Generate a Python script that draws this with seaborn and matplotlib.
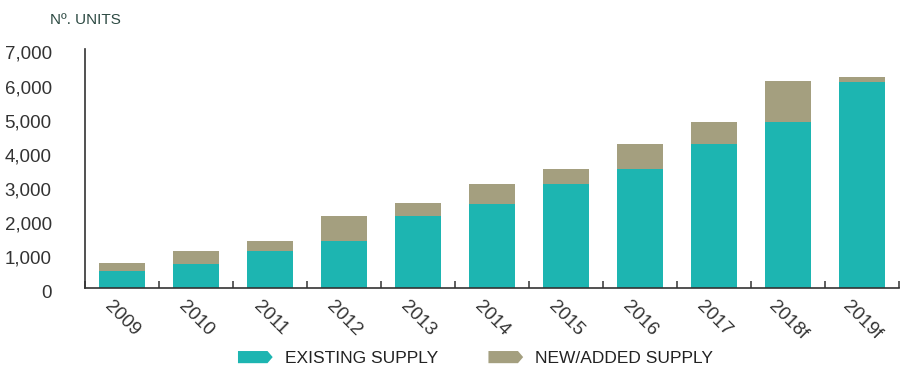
import matplotlib
matplotlib.use("Agg")
import numpy as np
import pandas as pd
import matplotlib.pyplot as plt
import seaborn as sns
from matplotlib.patches import Patch, Polygon
from matplotlib.legend_handler import HandlerPatch
from matplotlib.ticker import FuncFormatter, FixedLocator
from matplotlib.transforms import ScaledTranslation

# Housing units per year (forecast years marked "f")
years = ["2009", "2010", "2011", "2012", "2013", "2014",
         "2015", "2016", "2017", "2018f", "2019f"]
existing_supply = [490, 710, 1080, 1390, 2110, 2470, 3050, 3490, 4210, 4870, 6030]
added_supply = [240, 370, 290, 720, 380, 580, 440, 730, 660, 1180, 140]
y_ticks = [0, 1000, 2000, 3000, 4000, 5000, 6000, 7000]

TEAL = "#1db5b1"
TAN = "#a49f7f"
DARK = "#333333"

sns.set_theme(style="white")
plt.rcParams["font.family"] = ["Liberation Sans", "DejaVu Sans"]

df = pd.DataFrame({"year": years, "existing": existing_supply, "added": added_supply})
df["total"] = df["existing"] + df["added"]

fig = plt.figure(figsize=(9.06, 3.65), dpi=100)
ax = fig.add_axes([85 / 906, 1 - 288 / 365, (899 - 85) / 906, (288 - 49) / 365])

# stacked bars: full height in tan, existing part drawn over it in teal
sns.barplot(data=df, x="year", y="total", color=TAN, width=0.62,
            saturation=1, errorbar=None, linewidth=0, edgecolor="none", ax=ax)
sns.barplot(data=df, x="year", y="existing", color=TEAL, width=0.62,
            saturation=1, errorbar=None, linewidth=0, edgecolor="none", ax=ax)

ax.set_xlim(-0.5, len(years) - 0.5)
ax.set_ylim(0, 7000)
ax.set_xlabel("")
ax.set_ylabel("")

ax.yaxis.set_major_locator(FixedLocator(y_ticks))
ax.yaxis.set_major_formatter(FuncFormatter(lambda v, _: f"{v:,.0f}"))
ax.tick_params(axis="y", length=0, pad=24, labelsize=13.5, labelcolor=DARK)
# y labels sit a touch below their values
shift = ScaledTranslation(0, -2.5 / 72, fig.dpi_scale_trans)
for lbl in ax.get_yticklabels():
    lbl.set_transform(lbl.get_transform() + shift)

ax.tick_params(axis="x", which="major", length=0, pad=7, labelsize=13.5,
               labelcolor=DARK)
for lbl in ax.get_xticklabels():
    lbl.set_rotation(-45)
    lbl.set_ha("center")

# small inward ticks between the categories
ax.xaxis.set_minor_locator(FixedLocator(np.arange(-0.5, len(years), 1.0)))
ax.tick_params(axis="x", which="minor", direction="in", length=5, width=1.1,
               color=DARK, bottom=True)

for side in ("top", "right"):
    ax.spines[side].set_visible(False)
for side in ("left", "bottom"):
    ax.spines[side].set_color(DARK)
    ax.spines[side].set_linewidth(1.2)

fig.text(50 / 906, 1 - 20 / 365, "Nº. UNITS", ha="left", va="center",
         fontsize=11, color="#2d4a43")


class ArrowHandler(HandlerPatch):
    def create_artists(self, legend, orig_handle, xdescent, ydescent,
                       width, height, fontsize, trans):
        x0, y0 = -xdescent, -ydescent
        w, h = width, height
        pts = [(x0, y0), (x0 + 0.85 * w, y0), (x0 + w, y0 + h / 2),
               (x0 + 0.85 * w, y0 + h), (x0, y0 + h)]
        poly = Polygon(pts, closed=True, facecolor=orig_handle.get_facecolor(),
                       edgecolor="none", transform=trans)
        return [poly]


handles = [Patch(facecolor=TEAL, label="EXISTING SUPPLY"),
           Patch(facecolor=TAN, label="NEW/ADDED SUPPLY")]
fig.legend(handles=handles, handler_map={Patch: ArrowHandler()},
           loc="lower center", bbox_to_anchor=(0.525, -0.027), ncol=2,
           frameon=False, fontsize=12.5, handlelength=2.0, handleheight=0.7,
           handletextpad=0.7, columnspacing=2.9, borderpad=0,
           labelcolor="#222222")

fig.savefig("out.png", dpi=100)
